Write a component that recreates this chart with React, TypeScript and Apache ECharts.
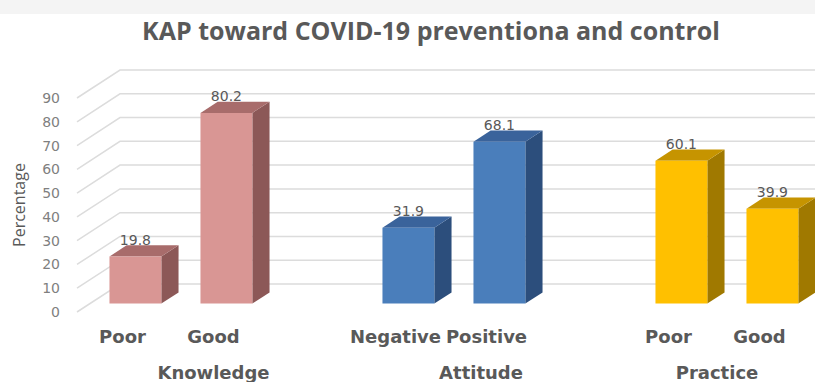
import React, { useEffect, useRef } from "react";
import * as echarts from "echarts";

const categories = ["Poor", "Good", "", "Negative", "Positive", "", "Poor", "Good"];
const groupLabels = ["", "Knowledge", "", "", "Attitude", "", "Practice", ""];
const values: (number | null)[] = [19.8, 80.2, null, 31.9, 68.1, null, 60.1, 39.9];
const groupOf = [0, 0, -1, 1, 1, -1, 2, 2];
const yTicks = [0, 10, 20, 30, 40, 50, 60, 70, 80, 90];

// front / side / top colours per group
const palette = [
  { front: "#D99694", side: "#8C5857", top: "#A86C6B" },
  { front: "#4A7EBB", side: "#2C4E7C", top: "#3A639B" },
  { front: "#FFC000", side: "#A07900", top: "#C69400" },
];

export default function App() {
  const ref = useRef<HTMLDivElement>(null);
  useEffect(() => {
    if (!ref.current) return;
    const chart = echarts.init(ref.current, undefined, { renderer: "svg" });

    const barData = values
      .map((v, i) => (v == null ? null : [i, v, groupOf[i]]))
      .filter((d) => d != null);

    const DEPTH_X = 43;
    const DEPTH_Y = -28;

    const option: any = {
      animation: false,
      backgroundColor: "#ffffff",
      title: {
        text: "KAP toward COVID-19 preventiona and control",
        left: 426,
        textAlign: "center",
        top: 12,
        textStyle: {
          fontFamily: "Open Sans",
          fontWeight: "bold",
          fontSize: 25,
          color: "#595959",
        },
      },
      graphic: [
        {
          type: "rect",
          left: 0,
          top: 0,
          shape: { width: 815, height: 14 },
          style: { fill: "#f4f4f4" },
          z: -10,
        },
      ],
      grid: { left: 77, right: 10, top: 98, bottom: 70 },
      xAxis: [
        {
          type: "category",
          data: categories,
          boundaryGap: true,
          axisLine: { show: false },
          axisTick: { show: false },
          splitLine: { show: false },
          axisLabel: {
            interval: 0,
            margin: 15,
            fontFamily: "DejaVu Sans",
            fontWeight: "bold",
            fontSize: 18,
            color: "#595959",
          },
        },
        {
          type: "category",
          data: groupLabels,
          position: "bottom",
          offset: 36,
          boundaryGap: true,
          axisLine: { show: false },
          axisTick: { show: false },
          splitLine: { show: false },
          axisLabel: {
            interval: 0,
            margin: 15,
            formatter: (val: string) =>
              val === "Practice" ? `{r|${val}}` : val === "Attitude" ? `{a|${val}}` : `{n|${val}}`,
            rich: {
              n: { fontFamily: "DejaVu Sans", fontWeight: "bold", fontSize: 18, color: "#595959" },
              a: {
                fontFamily: "DejaVu Sans",
                fontWeight: "bold",
                fontSize: 18,
                color: "#595959",
                padding: [0, 11, 0, 0],
              },
              r: {
                fontFamily: "DejaVu Sans",
                fontWeight: "bold",
                fontSize: 18,
                color: "#595959",
                padding: [0, 0, 0, 97],
              },
            },
          },
        },
      ],
      yAxis: {
        type: "value",
        min: 0,
        max: 90,
        interval: 10,
        name: "Percentage",
        nameLocation: "middle",
        nameRotate: 90,
        nameGap: 50,
        nameTextStyle: { fontFamily: "Open Sans", fontSize: 16, color: "#595959" },
        axisLine: { show: false },
        axisTick: { show: false },
        splitLine: { show: false },
        axisLabel: {
          margin: 17,
          fontFamily: "DejaVu Sans",
          fontSize: 14,
          color: "#7f7f7f",
        },
      },
      series: [
        {
          type: "custom",
          name: "walls",
          silent: true,
          z: 1,
          data: yTicks.map((t) => [0, t]),
          renderItem: (params: any, api: any) => {
            const cs = params.coordSys;
            const p = api.coord([0, api.value(1)]);
            const x0 = cs.x;
            const y = p[1];
            return {
              type: "polyline",
              shape: {
                points: [
                  [x0, y],
                  [x0 + DEPTH_X, y + DEPTH_Y],
                  [cs.x + cs.width + DEPTH_X + 20, y + DEPTH_Y],
                ],
              },
              style: { stroke: "#dcdcdc", lineWidth: 1.5, fill: "none" },
            };
          },
        },
        {
          type: "custom",
          name: "bars",
          z: 5,
          data: barData,
          renderItem: (params: any, api: any) => {
            const i = api.value(0);
            const v = api.value(1);
            const g = api.value(2);
            const col = palette[g];
            const topP = api.coord([i, v]);
            const baseP = api.coord([i, 0]);
            const w = api.size([1, 0])[0] * 0.57;
            const fx = DEPTH_X * 0.3;
            const fy = DEPTH_Y * 0.3;
            const dx = DEPTH_X * 0.4;
            const dy = DEPTH_Y * 0.4;
            const x0 = topP[0] - w / 2 + fx;
            const x1 = x0 + w;
            const yt = topP[1] + fy;
            const yb = baseP[1] + fy;
            return {
              type: "group",
              children: [
                {
                  type: "polygon",
                  shape: { points: [[x1, yt], [x1 + dx, yt + dy], [x1 + dx, yb + dy], [x1, yb]] },
                  style: { fill: col.side },
                },
                {
                  type: "polygon",
                  shape: { points: [[x0, yt], [x0 + dx, yt + dy], [x1 + dx, yt + dy], [x1, yt]] },
                  style: { fill: col.top },
                },
                {
                  type: "rect",
                  shape: { x: x0, y: yt, width: w, height: yb - yt },
                  style: { fill: col.front },
                },
                {
                  type: "text",
                  x: (x0 + x1) / 2,
                  y: yt - 17,
                  style: {
                    text: String(v),
                    align: "center",
                    verticalAlign: "middle",
                    fill: "#595959",
                    font: "14px 'DejaVu Sans'",
                  },
                },
              ],
            };
          },
        },
      ],
    };

    chart.setOption(option);
    return () => chart.dispose();
  }, []);

  return (
    <div
      ref={ref}
      style={{ position: "fixed", left: 0, top: 0, width: 815, height: 382 }}
    />
  );
}
